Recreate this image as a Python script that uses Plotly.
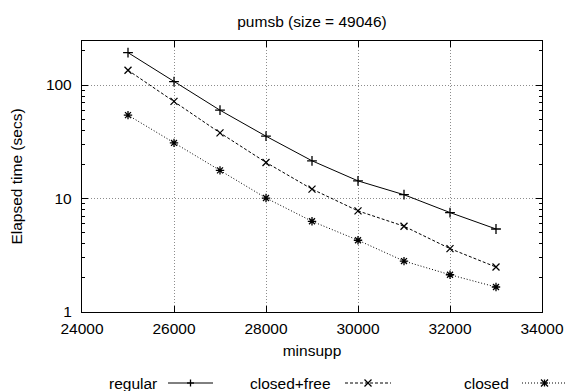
import plotly.graph_objects as go

minsupp = [25000, 26000, 27000, 28000, 29000, 30000, 31000, 32000, 33000]
regular = [193, 107, 60, 35.4, 21.5, 14.3, 10.8, 7.52, 5.39]
closed_free = [135, 71.8, 37.9, 20.8, 12.1, 7.78, 5.70, 3.62, 2.49]
closed = [54.3, 30.9, 17.7, 10.1, 6.30, 4.29, 2.81, 2.13, 1.66]

series_names = ["regular", "closed+free", "closed"]
x_ticks = [24000, 26000, 28000, 30000, 32000, 34000]
y_ticks = [1, 10, 100]

# page body has an 8px margin; work in figure pixel coordinates
OFF = 8
W, H = 575 - OFF, 391 - OFF
L, R, T, B = 82 - OFF, 542 - OFF, 41 - OFF, 312 - OFF
FONT = dict(family="Liberation Sans, Arial, sans-serif", size=15.5, color="black")

styles = [
    dict(dash="solid", symbol="cross-thin", size=7),
    dict(dash="3px,2px", symbol="x-thin", size=7),
    dict(dash="1px,2px", symbol="asterisk", size=7),
]

fig = go.Figure()
for name, ys, st in zip(series_names, [regular, closed_free, closed], styles):
    fig.add_trace(go.Scatter(
        x=minsupp, y=ys, name=name, mode="lines+markers",
        line=dict(color="black", width=1, dash=st["dash"]),
        marker=dict(symbol=st["symbol"], size=st["size"], color="black",
                    line=dict(color="black", width=1.3)),
        showlegend=False,
    ))

def px2paper_x(px):
    return (px - OFF - L) / (R - L)

def px2paper_y(py):
    return (B - (py - OFF)) / (B - T)

def seg(x0, y0, x1, y1, width=1.3, dash="solid"):
    fig.add_shape(type="line", xref="paper", yref="paper",
                  x0=px2paper_x(x0), x1=px2paper_x(x1),
                  y0=px2paper_y(y0), y1=px2paper_y(y1),
                  line=dict(color="black", width=width, dash=dash))

# custom legend: text, then line sample with glyph (window pixel positions)
leg_y = 383
legend_items = [(159, 168, 213), (333, 345, 391), (511, 522, 567)]
r = 3.5
for (tx, l0, l1), name, st in zip(legend_items, series_names, styles):
    fig.add_annotation(x=px2paper_x(tx), y=px2paper_y(leg_y), xref="paper", yref="paper",
                       text=name, showarrow=False, xanchor="right", yanchor="middle",
                       font=FONT)
    seg(l0, leg_y, l1, leg_y, width=1, dash=st["dash"])
    cx = (l0 + l1) / 2
    if st["symbol"] in ("cross-thin", "asterisk"):
        seg(cx - r, leg_y, cx + r, leg_y)
        seg(cx, leg_y - r, cx, leg_y + r)
    if st["symbol"] in ("x-thin", "asterisk"):
        seg(cx - r, leg_y - r, cx + r, leg_y + r)
        seg(cx - r, leg_y + r, cx + r, leg_y - r)

axis_common = dict(
    showline=True, linecolor="black", linewidth=1.3, mirror="ticks",
    ticks="inside", ticklen=6, tickcolor="black", tickwidth=1,
    showgrid=True, gridcolor="#8c8c8c", griddash="1px,2px", gridwidth=1,
    zeroline=False, tickfont=FONT,
)

fig.update_layout(
    width=W, height=H,
    margin=dict(l=L, r=W - R, t=T, b=H - B),
    paper_bgcolor="white", plot_bgcolor="white",
    font=FONT,
    title=dict(text="pumsb (size = 49046)", x=0.5, xref="paper", y=1 - (22 - OFF) / H,
               yanchor="middle", xanchor="center", font=FONT),
    xaxis=dict(range=[24000, 34000], tickvals=x_ticks, ticktext=[str(v) for v in x_ticks],
               title=dict(text="minsupp", font=FONT, standoff=9),
               automargin=False, ticklabelstandoff=2, **axis_common),
    yaxis=dict(type="log", range=[0, 2.388], tickvals=y_ticks,
               ticktext=[str(v) for v in y_ticks],
               title=dict(text="Elapsed time (secs)", font=FONT, standoff=22),
               minor=dict(ticks="inside", ticklen=3, tickcolor="black", showgrid=False,
                          tickvals=[m * d for d in [1, 10, 100] for m in range(2, 10)]),
               automargin=False, ticklabelstandoff=6, **axis_common),
)

fig.write_html("out.html")
